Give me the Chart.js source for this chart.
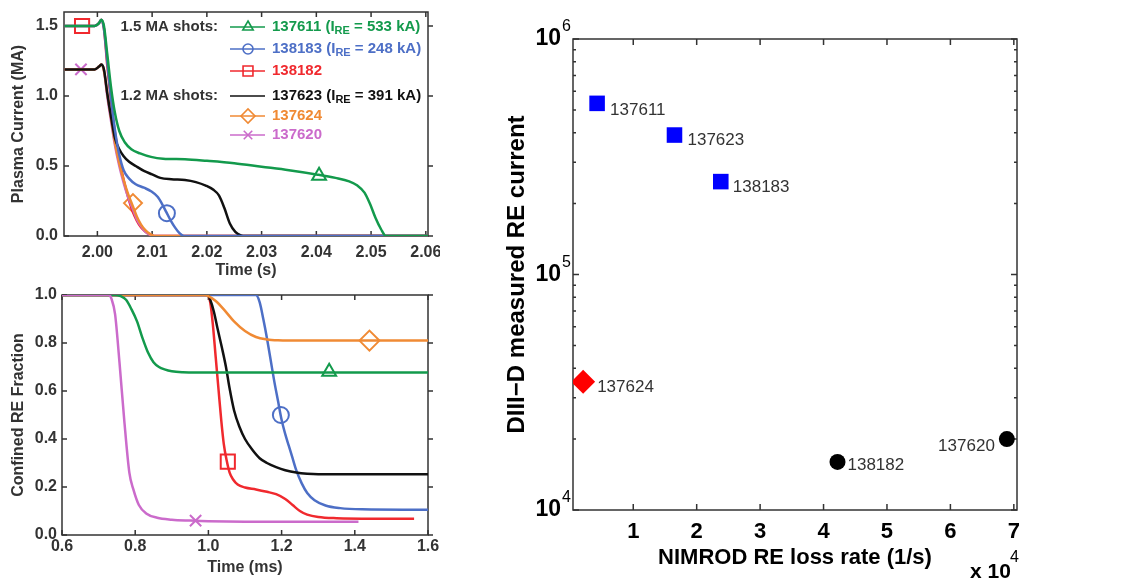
<!DOCTYPE html>
<html>
<head>
<meta charset="utf-8">
<script src="https://cdn.jsdelivr.net/npm/chart.js@4.4.1/dist/chart.umd.min.js"></script>
<style>
  body { margin: 0; background: #fff; }
  #wrap { position: relative; width: 1122px; height: 583px; overflow: hidden; }
  canvas { position: absolute; }
</style>
</head>
<body>
<div id="wrap">
  <canvas id="currentChart" width="440" height="280" style="left:0;top:0"></canvas>
  <canvas id="fractionChart" width="440" height="303" style="left:0;top:280px"></canvas>
  <canvas id="lossChart" width="622" height="583" style="left:500px;top:0"></canvas>
</div>
<script>
// ---- top left: plasma current (MA) vs time (s) ----
var timeTicks = [2.00, 2.01, 2.02, 2.03, 2.04, 2.05, 2.06];
var currentTicks = [0, 0.5, 1.0, 1.5];

var t137611 = [1.994, 1.9995, 2.0003, 2.0007, 2.0012, 2.0018, 2.0025, 2.0032, 2.004, 2.005, 2.0062, 2.0078, 2.0098, 2.012, 2.016, 2.020, 2.025, 2.030, 2.035, 2.040, 2.0435, 2.046, 2.0475, 2.0488, 2.0498, 2.0508, 2.0518, 2.0527, 2.0605];
var i137611 = [1.50, 1.50, 1.52, 1.545, 1.50, 1.30, 1.06, 0.88, 0.75, 0.67, 0.62, 0.59, 0.565, 0.552, 0.548, 0.537, 0.52, 0.495, 0.47, 0.44, 0.415, 0.39, 0.36, 0.31, 0.23, 0.13, 0.05, 0.0, 0.0];

var t137623 = [1.994, 1.9995, 2.0003, 2.0007, 2.0012, 2.0018, 2.0025, 2.0032, 2.004, 2.0048, 2.0058, 2.007, 2.0085, 2.010, 2.0115, 2.0135, 2.016, 2.018, 2.0198, 2.0212, 2.0222, 2.0232, 2.0242, 2.0252, 2.0262, 2.027, 2.0605];
var i137623 = [1.19, 1.19, 1.21, 1.225, 1.19, 1.02, 0.85, 0.70, 0.62, 0.57, 0.53, 0.50, 0.465, 0.44, 0.415, 0.405, 0.40, 0.385, 0.36, 0.33, 0.29, 0.20, 0.09, 0.03, 0.005, 0.0, 0.0];

var t138183 = [1.994, 1.9995, 2.0003, 2.0007, 2.0012, 2.0018, 2.0025, 2.0032, 2.004, 2.0048, 2.0058, 2.007, 2.0085, 2.0098, 2.011, 2.0118, 2.0126, 2.0134, 2.0142, 2.015, 2.0158, 2.0605];
var i138183 = [1.50, 1.50, 1.52, 1.545, 1.48, 1.25, 0.98, 0.76, 0.58, 0.47, 0.41, 0.37, 0.345, 0.32, 0.28, 0.23, 0.17, 0.11, 0.06, 0.02, 0.0, 0.0];

var t138182 = [1.994, 1.9995, 2.0003, 2.0007, 2.0012, 2.0018, 2.0025, 2.0032, 2.004, 2.0048, 2.0056, 2.0064, 2.0072, 2.008, 2.0088, 2.0096, 2.0104, 2.0605];
var i138182 = [1.50, 1.50, 1.52, 1.545, 1.48, 1.22, 0.96, 0.74, 0.55, 0.40, 0.28, 0.18, 0.11, 0.06, 0.03, 0.01, 0.0, 0.0];

var t137624 = [1.994, 1.9995, 2.0003, 2.0007, 2.0012, 2.0018, 2.0025, 2.0032, 2.004, 2.0048, 2.0056, 2.0064, 2.0072, 2.008, 2.0088, 2.0096, 2.0104, 2.0605];
var i137624 = [1.19, 1.19, 1.21, 1.225, 1.18, 1.02, 0.84, 0.67, 0.52, 0.40, 0.30, 0.22, 0.14, 0.08, 0.04, 0.015, 0.0, 0.0];

var t137620 = [1.994, 1.9995, 2.0003, 2.0007, 2.0012, 2.0018, 2.0025, 2.0032, 2.004, 2.0048, 2.0056, 2.0064, 2.0072, 2.008, 2.0088, 2.0096, 2.0104, 2.0605];
var i137620 = [1.19, 1.19, 1.21, 1.225, 1.18, 1.00, 0.82, 0.65, 0.50, 0.38, 0.28, 0.20, 0.12, 0.07, 0.03, 0.01, 0.0, 0.0];

// one marker per curve (time, current)
var markTime = [2.0405, 2.0127, 1.9972, 2.0065, 1.997];
var markCurrent = [0.43, 0.163, 1.50, 0.235, 1.19];

// ---- bottom left: confined RE fraction vs time (ms) ----
var msTicks = [0.6, 0.8, 1.0, 1.2, 1.4, 1.6];
var fracTicks = [0, 0.2, 0.4, 0.6, 0.8, 1.0];

var s137620 = [0.6, 0.728, 0.735, 0.745, 0.757, 0.77, 0.784, 0.795, 0.81, 0.83, 0.86, 0.9, 0.95, 1.0, 1.1, 1.2, 1.3, 1.41];
var f137620 = [1.0, 1.0, 0.985, 0.92, 0.72, 0.48, 0.26, 0.19, 0.125, 0.09, 0.072, 0.064, 0.06, 0.057, 0.055, 0.055, 0.055, 0.055];

var s137611 = [0.6, 0.745, 0.76, 0.775, 0.79, 0.805, 0.82, 0.835, 0.85, 0.865, 0.88, 0.9, 0.93, 0.97, 1.6];
var f137611 = [1.0, 1.0, 0.995, 0.98, 0.94, 0.89, 0.82, 0.76, 0.72, 0.70, 0.69, 0.682, 0.678, 0.677, 0.677];

var s137624 = [0.6, 0.99, 1.0, 1.02, 1.045, 1.07, 1.1, 1.13, 1.16, 1.19, 1.22, 1.6];
var f137624 = [1.0, 1.0, 0.995, 0.975, 0.935, 0.89, 0.85, 0.825, 0.815, 0.811, 0.81, 0.81];

var s137623 = [0.6, 0.998, 1.005, 1.015, 1.025, 1.037, 1.048, 1.058, 1.07, 1.085, 1.1, 1.12, 1.14, 1.16, 1.185, 1.21, 1.24, 1.27, 1.3, 1.6];
var f137623 = [1.0, 1.0, 0.98, 0.93, 0.86, 0.78, 0.70, 0.61, 0.52, 0.45, 0.40, 0.355, 0.32, 0.30, 0.283, 0.27, 0.26, 0.255, 0.253, 0.253];

var s138182 = [0.6, 0.998, 1.005, 1.012, 1.02, 1.028, 1.035, 1.042, 1.05, 1.058, 1.068, 1.08, 1.1, 1.13, 1.16, 1.185, 1.21, 1.23, 1.25, 1.27, 1.3, 1.35, 1.45, 1.562];
var f138182 = [1.0, 1.0, 0.97, 0.88, 0.74, 0.60, 0.48, 0.38, 0.31, 0.26, 0.23, 0.21, 0.198, 0.19, 0.18, 0.17, 0.15, 0.125, 0.10, 0.085, 0.075, 0.07, 0.068, 0.068];

var s138183 = [0.6, 1.13, 1.14, 1.15, 1.16, 1.17, 1.18, 1.19, 1.2, 1.21, 1.22, 1.23, 1.24, 1.255, 1.27, 1.29, 1.32, 1.36, 1.42, 1.6];
var f138183 = [1.0, 1.0, 0.97, 0.90, 0.82, 0.73, 0.64, 0.56, 0.48, 0.42, 0.37, 0.32, 0.27, 0.215, 0.175, 0.145, 0.123, 0.112, 0.107, 0.105];

var markMs = [1.33, 1.198, 1.053, 1.44, 0.965];
var markFrac = [0.68, 0.50, 0.306, 0.81, 0.06];

// ---- right: measured RE current vs NIMROD loss rate (x 10^4 1/s) ----
var lossTicks = [1, 2, 3, 4, 5, 6, 7];
var decadeTicks = [1e4, 1e5, 1e6];
var minorTicks = [2e4, 3e4, 4e4, 5e4, 6e4, 7e4, 8e4, 9e4, 2e5, 3e5, 4e5, 5e5, 6e5, 7e5, 8e5, 9e5];

var squareShots = ['137611', '137623', '138183'];
var squareRate = [0.43, 1.65, 2.38];
var squareCurrent = [533e3, 391e3, 248e3];

var diamondShots = ['137624'];
var diamondRate = [0.21];
var diamondCurrent = [35e3];

var circleShots = ['138182', '137620'];
var circleRate = [4.22, 6.89];
var circleCurrent = [16e3, 20e3];

// label placement next to each point (dx, dy, align)
var labelPlace = {
    '137611': [13, 7, 'left'],
    '137623': [13, 5, 'left'],
    '138183': [12, 6, 'left'],
    '137624': [14, 5, 'left'],
    '138182': [10, 3, 'left'],
    '137620': [-12, 7, 'right']
};

var FONT = "'Liberation Sans', Arial, Helvetica, sans-serif";
var TXT = '#333';
var GREEN = '#139a4c';
var BLUE = '#4d6fc6';
var RED = '#f0292e';
var ORANGE = '#f08a34';
var MAGENTA = '#cb6bcb';
var BLACK = '#111';

function pts(xs, ys) {
    return xs.map(function (x, i) { return { x: x, y: ys[i] }; });
}

function curve(label, xs, ys, color) {
    return {
        label: label, data: pts(xs, ys), borderColor: color, borderWidth: 2.5,
        pointRadius: 0, showLine: true, cubicInterpolationMode: 'monotone', fill: false
    };
}

function marker(label, x, y, color, style, r) {
    return {
        label: label, data: [{ x: x, y: y }], borderColor: color, backgroundColor: 'rgba(0,0,0,0)',
        pointStyle: style, pointRadius: r, borderWidth: 2, showLine: false
    };
}

function fixedTicks(list) {
    return function (s) { s.ticks = list.map(function (v) { return { value: v }; }); };
}

// box round the plot area with tick marks pointing in
var framePlugin = {
    id: 'frame',
    beforeDatasetsDraw: function (chart, args, o) {
        var ctx = chart.ctx, a = chart.chartArea, xs = chart.scales.x, ys = chart.scales.y;
        ctx.save();
        ctx.strokeStyle = o.color;
        ctx.lineWidth = o.width;
        ctx.strokeRect(a.left, a.top, a.right - a.left, a.bottom - a.top);
        ctx.beginPath();
        (o.xTicks || []).forEach(function (v) {
            var px = xs.getPixelForValue(v);
            ctx.moveTo(px, a.bottom); ctx.lineTo(px, a.bottom - o.len);
            ctx.moveTo(px, a.top); ctx.lineTo(px, a.top + o.len);
        });
        var ySet = function (list, len) {
            list.forEach(function (v) {
                var py = ys.getPixelForValue(v);
                ctx.moveTo(a.left, py); ctx.lineTo(a.left + len, py);
                if (o.rightOut) { ctx.moveTo(a.right, py); ctx.lineTo(a.right + len, py); }
                else { ctx.moveTo(a.right, py); ctx.lineTo(a.right - len, py); }
            });
        };
        ySet(o.yTicks || [], o.len);
        ySet(o.yMinor || [], o.minorLen || o.len);
        ctx.stroke();
        ctx.restore();
    }
};

// legend of the top panel
var shotLegend = [
    { y: 27, color: GREEN, style: 'triangle', r: 6, parts: ['137611 (I', 'RE', ' = 533 kA)'] },
    { y: 49, color: BLUE, style: 'circle', r: 5, parts: ['138183 (I', 'RE', ' = 248 kA)'] },
    { y: 71, color: RED, style: 'rect', r: 7, parts: ['138182'] },
    { y: 96, color: BLACK, style: null, r: 0, parts: ['137623 (I', 'RE', ' = 391 kA)'] },
    { y: 116, color: ORANGE, style: 'rectRot', r: 7, parts: ['137624'] },
    { y: 135, color: MAGENTA, style: 'crossRot', r: 6, parts: ['137620'] }
];
var shotGroups = [{ y: 27, text: '1.5 MA shots:' }, { y: 96, text: '1.2 MA shots:' }];

var legendPlugin = {
    id: 'shotLegend',
    afterDraw: function (chart) {
        var ctx = chart.ctx;
        ctx.save();
        ctx.textBaseline = 'middle';
        ctx.font = 'bold 15px ' + FONT;
        ctx.fillStyle = TXT;
        ctx.textAlign = 'right';
        shotGroups.forEach(function (g) { ctx.fillText(g.text, 218, g.y); });
        ctx.textAlign = 'left';
        shotLegend.forEach(function (row) {
            ctx.strokeStyle = row.color;
            ctx.lineWidth = 1.6;
            ctx.beginPath();
            ctx.moveTo(230, row.y); ctx.lineTo(265, row.y);
            ctx.stroke();
            if (row.style) {
                ctx.fillStyle = 'rgba(0,0,0,0)';
                Chart.helpers.drawPoint(ctx, { pointStyle: row.style, radius: row.r, rotation: 0, borderWidth: 1.6 }, 248, row.y);
            }
            ctx.fillStyle = row.color;
            var x = 272;
            row.parts.forEach(function (p, k) {
                if (k === 1) {
                    ctx.font = 'bold 11px ' + FONT;
                    ctx.fillText(p, x, row.y + 4);
                } else {
                    ctx.font = 'bold 15px ' + FONT;
                    ctx.fillText(p, x, row.y);
                }
                x += ctx.measureText(p).width;
            });
        });
        ctx.restore();
    }
};

function axisFont(size) {
    return { family: FONT, size: size, weight: 'bold' };
}

var leftCommon = function (xMin, xMax, xList, xDigits, xTitle, xPad, xTitlePad, xH, yMax, yList, yTitle, yW, yPad) {
    return {
        x: {
            type: 'linear', min: xMin, max: xMax,
            afterBuildTicks: fixedTicks(xList),
            afterFit: function (s) { s.height = xH; s.paddingLeft = 0; s.paddingRight = 0; },
            grid: { display: false, drawTicks: false }, border: { display: false },
            ticks: {
                autoSkip: false, maxRotation: 0, padding: xPad, color: TXT, font: axisFont(16),
                callback: function (v) { return Number(v).toFixed(xDigits); }
            },
            title: { display: true, text: xTitle, color: TXT, font: axisFont(16), padding: { top: 0, bottom: xTitlePad } }
        },
        y: {
            type: 'linear', min: 0, max: yMax,
            afterBuildTicks: fixedTicks(yList),
            afterFit: function (s) { s.width = yW; s.paddingTop = 0; s.paddingBottom = 0; },
            grid: { display: false, drawTicks: false }, border: { display: false },
            ticks: {
                autoSkip: false, padding: yPad, color: TXT, font: axisFont(16),
                callback: function (v) { return Number(v).toFixed(1); }
            },
            title: { display: true, text: yTitle, color: TXT, font: axisFont(16), padding: { top: 9, bottom: 0 } }
        }
    };
};

new Chart(document.getElementById('currentChart'), {
    type: 'scatter',
    data: {
        datasets: [
            curve('137611', t137611, i137611, GREEN),
            curve('138183', t138183, i138183, BLUE),
            curve('137623', t137623, i137623, BLACK),
            curve('137624', t137624, i137624, ORANGE),
            curve('137620', t137620, i137620, MAGENTA),
            curve('138182', t138182, i138182, RED),
            marker('137611', markTime[0], markCurrent[0], GREEN, 'triangle', 8),
            marker('138183', markTime[1], markCurrent[1], BLUE, 'circle', 8),
            marker('138182', markTime[2], markCurrent[2], RED, 'rect', 10),
            marker('137624', markTime[3], markCurrent[3], ORANGE, 'rectRot', 9),
            marker('137620', markTime[4], markCurrent[4], MAGENTA, 'crossRot', 8)
        ]
    },
    options: {
        responsive: false, animation: false, devicePixelRatio: 1,
        layout: { padding: { top: 12, right: 8, bottom: 0, left: 0 } },
        plugins: {
            legend: { display: false }, tooltip: { enabled: false },
            frame: { color: '#333', width: 1.5, len: 5, rightOut: true, xTicks: timeTicks, yTicks: currentTicks }
        },
        scales: leftCommon(1.9939, 2.0604, timeTicks, 2, 'Time (s)', 7, 0, 44, 1.6, currentTicks, 'Plasma Current (MA)', 64, 6)
    },
    plugins: [framePlugin, legendPlugin]
});

new Chart(document.getElementById('fractionChart'), {
    type: 'scatter',
    data: {
        datasets: [
            curve('137620', s137620, f137620, MAGENTA),
            curve('137611', s137611, f137611, GREEN),
            curve('137624', s137624, f137624, ORANGE),
            curve('137623', s137623, f137623, BLACK),
            curve('138182', s138182, f138182, RED),
            curve('138183', s138183, f138183, BLUE),
            marker('137611', markMs[0], markFrac[0], GREEN, 'triangle', 8),
            marker('138183', markMs[1], markFrac[1], BLUE, 'circle', 8),
            marker('138182', markMs[2], markFrac[2], RED, 'rect', 10),
            marker('137624', markMs[3], markFrac[3], ORANGE, 'rectRot', 10),
            marker('137620', markMs[4], markFrac[4], MAGENTA, 'crossRot', 8)
        ]
    },
    options: {
        responsive: false, animation: false, devicePixelRatio: 1,
        layout: { padding: { top: 15, right: 9, bottom: 0, left: 0 } },
        plugins: {
            legend: { display: false }, tooltip: { enabled: false },
            frame: { color: '#333', width: 1.5, len: 5, rightOut: true, xTicks: msTicks, yTicks: fracTicks }
        },
        scales: leftCommon(0.6, 1.6, msTicks, 1, 'Time (ms)', 2, 6, 48, 1.0, fracTicks, 'Confined RE Fraction', 62, 5)
    },
    plugins: [framePlugin]
});

// log tick labels, point names and the x 10^4 factor
var lossTextPlugin = {
    id: 'lossText',
    afterDraw: function (chart) {
        var ctx = chart.ctx, a = chart.chartArea, ys = chart.scales.y;
        ctx.save();
        ctx.fillStyle = '#000';
        ctx.textBaseline = 'middle';
        decadeTicks.forEach(function (v) {
            var py = ys.getPixelForValue(v);
            ctx.textAlign = 'right';
            ctx.font = 'bold 23px ' + FONT;
            ctx.fillText('10', a.left - 12, py);
            ctx.textAlign = 'left';
            ctx.font = '16px ' + FONT;
            ctx.fillText(String(Math.round(Math.log10(v))), a.left - 11, py - 12);
        });
        ctx.textAlign = 'left';
        ctx.font = 'bold 21px ' + FONT;
        ctx.fillText('x 10', a.right - 47, 572);
        ctx.font = '16px ' + FONT;
        ctx.fillText('4', a.right - 7, 558);

        ctx.fillStyle = '#333';
        ctx.font = '17px ' + FONT;
        chart.data.datasets.forEach(function (ds, i) {
            var meta = chart.getDatasetMeta(i);
            meta.data.forEach(function (el, j) {
                var name = ds.shots[j], p = labelPlace[name];
                ctx.textAlign = p[2];
                ctx.fillText(name, el.x + p[0], el.y + p[1]);
            });
        });
        ctx.restore();
    }
};

new Chart(document.getElementById('lossChart'), {
    type: 'scatter',
    data: {
        datasets: [
            { shots: squareShots, data: pts(squareRate, squareCurrent), pointStyle: 'rect', pointRadius: 11, backgroundColor: '#0000ff', borderColor: '#0000ff', borderWidth: 0 },
            { shots: diamondShots, data: pts(diamondRate, diamondCurrent), pointStyle: 'rectRot', pointRadius: 12, backgroundColor: '#ff0000', borderColor: '#ff0000', borderWidth: 0 },
            { shots: circleShots, data: pts(circleRate, circleCurrent), pointStyle: 'circle', pointRadius: 8, backgroundColor: '#000', borderColor: '#000', borderWidth: 0 }
        ]
    },
    options: {
        responsive: false, animation: false, devicePixelRatio: 1,
        layout: { padding: { top: 39, right: 105, bottom: 0, left: 0 } },
        plugins: {
            legend: { display: false }, tooltip: { enabled: false },
            frame: { color: '#333', width: 1.5, len: 6, minorLen: 3, xTicks: lossTicks, yTicks: decadeTicks, yMinor: minorTicks }
        },
        scales: {
            x: {
                type: 'linear', min: 0.05, max: 7.05,
                afterBuildTicks: fixedTicks(lossTicks),
                afterFit: function (s) { s.height = 73; s.paddingLeft = 0; s.paddingRight = 0; },
                grid: { display: false, drawTicks: false }, border: { display: false },
                ticks: { autoSkip: false, maxRotation: 0, padding: 9, color: '#000', font: axisFont(22) },
                title: { display: true, text: 'NIMROD RE loss rate (1/s)', color: '#000', font: axisFont(22), padding: { top: 0, bottom: 12 } }
            },
            y: {
                type: 'logarithmic', min: 1e4, max: 1e6,
                afterBuildTicks: fixedTicks(decadeTicks),
                afterFit: function (s) { s.width = 73; s.paddingTop = 0; s.paddingBottom = 0; },
                grid: { display: false, drawTicks: false }, border: { display: false },
                ticks: { display: false },
                title: { display: true, text: 'DIII\u2212D measured RE current', color: '#000', font: axisFont(24), padding: { top: 3, bottom: 0 } }
            }
        }
    },
    plugins: [framePlugin, lossTextPlugin]
});
</script>
</body>
</html>
